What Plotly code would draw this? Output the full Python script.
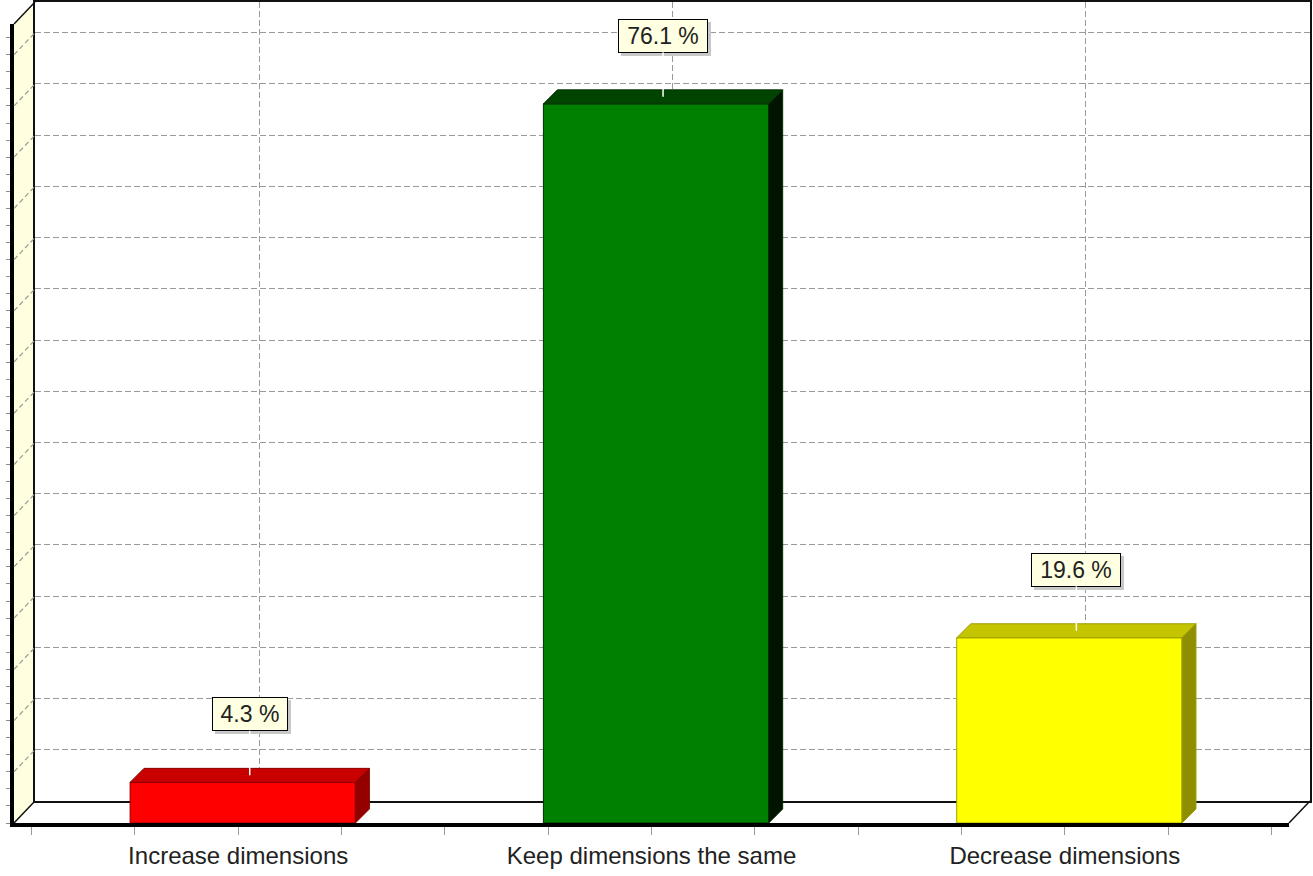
import numpy as np
import plotly.graph_objects as go

# ---------------- data ----------------
categories = ["Increase dimensions", "Keep dimensions the same", "Decrease dimensions"]
values = [4.3, 76.1, 19.6]
labels = ["4.3 %", "76.1 %", "19.6 %"]
front_colors = ["#FF0000", "#008000", "#FFFF00"]
top_colors = ["#C80000", "#004400", "#C4C400"]
side_colors = ["#940000", "#001400", "#8E8E00"]
edge_colors = ["#8A0000", "#003000", "#A0A000"]

# ---------------- layout constants ----------------
W, H = 1313, 876
FRONT_L, FRONT_R, FRONT_B, FRONT_T = 14, 1289, 823, 24
BACK_L, BACK_R, BACK_B, BACK_T = 35, 1310, 801, 2
X_RANGE = [-0.5424, 2.5424]
PPU = 9.45                       # pixels per percent
Y_MAX = (BACK_B - BACK_T) / PPU
GRID_STEP = 5.42
PX_PER_CAT = (FRONT_R - FRONT_L) / (X_RANGE[1] - X_RANGE[0])

BAR_OFFSET, BAR_WIDTH = -0.2615, 0.545
DX = 14 / PX_PER_CAT             # bar depth in category units
DY = 14 / PPU                    # bar depth in percent units

GRID_COLOR = "#9A9A9A"
GRID_DASH = "6px,3px"


def px(x):
    return x / W


def py(y):
    return 1 - y / H


fig = go.Figure()

# empty trace so that the back-wall subplot (x, y) is rendered
fig.add_trace(go.Scatter(x=[], y=[], xaxis="x", yaxis="y",
                         hoverinfo="skip", showlegend=False))

# front faces of the bars
fig.add_trace(go.Bar(
    x=list(range(len(categories))), y=values,
    offset=BAR_OFFSET, width=BAR_WIDTH,
    marker=dict(color=front_colors, line=dict(color=edge_colors, width=1)),
    xaxis="x2", yaxis="y2", hoverinfo="skip", showlegend=False,
))

# top and side faces (3D effect)
for i, v in enumerate(values):
    x0 = i + BAR_OFFSET
    x1 = x0 + BAR_WIDTH
    fig.add_trace(go.Scatter(
        x=[x0, x1, x1 + DX, x0 + DX, x0], y=[v, v, v + DY, v + DY, v],
        fill="toself", fillcolor=top_colors[i], mode="lines",
        line=dict(color=edge_colors[i], width=1),
        xaxis="x2", yaxis="y2", hoverinfo="skip", showlegend=False))
    fig.add_trace(go.Scatter(
        x=[x1, x1, x1 + DX, x1 + DX, x1], y=[0, v, v + DY, DY, 0],
        fill="toself", fillcolor=side_colors[i], mode="lines",
        line=dict(color=edge_colors[i], width=1),
        xaxis="x2", yaxis="y2", hoverinfo="skip", showlegend=False))

# ---------------- walls (shapes) ----------------
shapes = []
# left wall
shapes.append(dict(
    type="path", xref="paper", yref="paper", layer="below",
    path=f"M {px(FRONT_L)} {py(FRONT_T)} L {px(BACK_L)} {py(BACK_T)} "
         f"L {px(BACK_L)} {py(BACK_B)} L {px(FRONT_L)} {py(FRONT_B)} Z",
    fillcolor="#FFFFE0", line=dict(width=0)))
# diagonal gridlines on left wall
depth_px = FRONT_B - BACK_B
for g in np.arange(GRID_STEP, Y_MAX, GRID_STEP):
    yb = BACK_B - g * PPU
    shapes.append(dict(type="line", xref="paper", yref="paper", layer="above",
                       x0=px(FRONT_L), y0=py(yb + depth_px), x1=px(BACK_L), y1=py(yb),
                       line=dict(color=GRID_COLOR, width=1.2, dash="5px,3px")))
# edges: left wall top, floor left & right diagonals
for (xa, ya, xb, yb_) in [(FRONT_L, FRONT_T, BACK_L, BACK_T),
                          (FRONT_L, FRONT_B, BACK_L, BACK_B),
                          (FRONT_R, FRONT_B, BACK_R, BACK_B)]:
    shapes.append(dict(type="line", xref="paper", yref="paper",
                       x0=px(xa), y0=py(ya), x1=px(xb), y1=py(yb_),
                       line=dict(color="#111111", width=1.5)))

# ---------------- value labels ----------------
annotations = []
for i, (v, t) in enumerate(zip(values, labels)):
    xc = i + BAR_OFFSET + BAR_WIDTH / 2 + DX / 2
    yc = v + DY / 2
    common = dict(x=xc, y=yc, xref="x2", yref="y2",
                  showarrow=True, ax=0, ay=-61, arrowhead=0,
                  width=14 * len(t), height=28, borderpad=2, borderwidth=1,
                  font=dict(family="Arial", size=23, color="#222222"))
    annotations.append(dict(common, text=" ", bgcolor="#C8C8C8", bordercolor="#C8C8C8",
                            arrowcolor="rgba(0,0,0,0)", xshift=3, yshift=-3))
    annotations.append(dict(common, text=t, bgcolor="#FFFFE1", bordercolor="#000000",
                            arrowcolor="#FFFFFF", arrowwidth=1.5))

tick_pos = np.arange(-0.5, 2.51, 0.25)
tick_text = [categories[int(round(t))] if abs(t - round(t)) < 1e-9 else "" for t in tick_pos]

fig.update_layout(
    width=W, height=H, autosize=False,
    margin=dict(l=0, r=0, t=0, b=0, autoexpand=False),
    paper_bgcolor="white", plot_bgcolor="rgba(0,0,0,0)",
    showlegend=False,
    shapes=shapes, annotations=annotations,
    # back wall
    xaxis=dict(domain=[px(BACK_L), px(BACK_R)], range=X_RANGE, anchor="y",
               tickmode="array", tickvals=[0, 1, 2], showticklabels=False, ticks="",
               showgrid=True, gridcolor=GRID_COLOR, gridwidth=1, griddash=GRID_DASH,
               zeroline=False, showline=True, mirror=True,
               linecolor="#111111", linewidth=2, fixedrange=True),
    yaxis=dict(domain=[py(BACK_B), py(BACK_T)], range=[0, Y_MAX], anchor="x",
               tickmode="linear", tick0=0, dtick=GRID_STEP, showticklabels=False, ticks="",
               showgrid=True, gridcolor=GRID_COLOR, gridwidth=1.2, griddash=GRID_DASH,
               zeroline=False, showline=True, mirror=True,
               linecolor="#111111", linewidth=2, fixedrange=True),
    # front plane
    xaxis2=dict(domain=[px(FRONT_L), px(FRONT_R)], range=X_RANGE, anchor="y2",
                tickmode="array", tickvals=tick_pos, ticktext=tick_text,
                ticks="outside", ticklen=8, tickcolor="#9A9A9A", tickwidth=1,
                tickfont=dict(family="Arial", size=24, color="#222222"),
                showgrid=False, zeroline=False, showline=True,
                linecolor="#000000", linewidth=3.5, fixedrange=True),
    yaxis2=dict(domain=[py(FRONT_B), py(FRONT_T)], range=[0, Y_MAX], anchor="x2",
                tickmode="array", tickvals=np.arange(0, Y_MAX, GRID_STEP / 3),
                showticklabels=False, ticks="outside", ticklen=4,
                tickcolor="#8A8A8A", tickwidth=1,
                showgrid=False, zeroline=False, showline=True,
                linecolor="#000000", linewidth=4, fixedrange=True),
)

fig.write_html("out.html", config={"displayModeBar": False},
               post_script="document.body.style.margin='0';document.body.style.padding='0';")
